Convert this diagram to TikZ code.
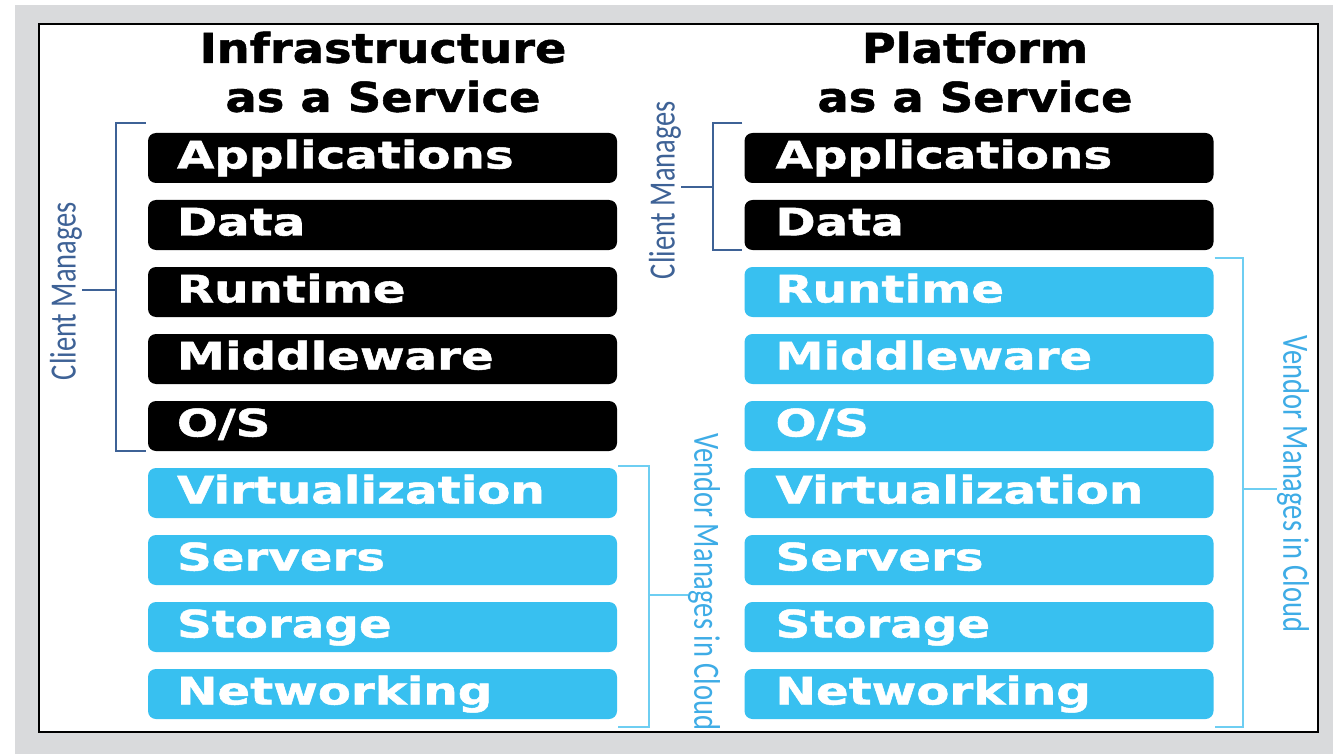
\documentclass[tikz,border=0pt]{standalone}
\usepackage{fontspec}
\setmainfont{DejaVu Sans}
\newfontfamily\heavyfont{DejaVu Sans}[BoldFeatures={FakeBold=1.2}]
\newfontfamily\sidefont{Carlito}
\usetikzlibrary{positioning}

\definecolor{pagegray}{RGB}{217,218,220}
\definecolor{skyfill}{RGB}{56,192,240}
\definecolor{clientblue}{RGB}{62,98,150}
\definecolor{vendorcyan}{RGB}{110,206,242}
\definecolor{vendortext}{RGB}{62,172,230}

\tikzset{layer/.style={rounded corners=8pt,minimum width=469pt,minimum height=50pt,inner sep=0pt},
  layertext/.style={text=white,inner sep=0pt,anchor=base west,xscale=1.27,font=\heavyfont\fontsize{38}{40}\selectfont\bfseries},
  heading/.style={align=center,inner sep=0pt,xscale=1.13,font=\heavyfont\fontsize{41}{49}\selectfont\bfseries},
  clientline/.style={clientblue,line width=2.5pt},
  vendorline/.style={vendorcyan,line width=2.5pt},
  sidetext/.style={inner sep=0pt,xscale=1.3,font=\sidefont\fontsize{28.5}{30}\selectfont}}

\begin{document}
\begin{tikzpicture}[x=1pt,y=-1pt]
                  \useasboundingbox (0,0) rectangle (1333,754);
                  \fill[pagegray] (15,5) rectangle (1333,754);
                  \draw[fill=white,line width=2pt] (39,24) rectangle (1318,732);
                  % headings
                  \node[heading] (iaas) at (383,72) {Infrastructure\\as a Service};
                  \node[heading] (paas) at (975,72) {Platform\\as a Service};
                  % the two stacks
                  \foreach \n/\t/\ci/\cp [count=\i from 0] in {app/Applications/black/black,data/Data/black/black,
                      run/Runtime/black/skyfill,mid/Middleware/black/skyfill,os/{O/S}/black/skyfill,
                      virt/Virtualization/skyfill/skyfill,serv/Servers/skyfill/skyfill,
                      stor/Storage/skyfill/skyfill,net/Networking/skyfill/skyfill}{
                    \node[layer,fill=\ci] (i\n) at (382.5,158+67*\i) {};
                    \node[layertext] at ([xshift=29pt,yshift=-10.5pt]i\n.west) {\t};
                    \node[layer,fill=\cp] (p\n) at (979,158+67*\i) {};
                    \node[layertext] at ([xshift=31pt,yshift=-10.5pt]p\n.west) {\t};
                  }
                  % side labels
                  \node[sidetext,rotate=90,text=clientblue] (iclient) at (66,291) {Client Manages};
                  \node[sidetext,rotate=90,text=clientblue] (pclient) at (665,190) {Client Manages};
                  \node[sidetext,rotate=-90,text=vendortext] (ivendor) at (704,582) {Vendor Manages in Cloud};
                  \node[sidetext,rotate=-90,text=vendortext] (pvendor) at (1293,484) {Vendor Manages in Cloud};
                  % brackets
                  \draw[clientline] ([shift={(-2pt,10pt)}]iapp.north west) -| (116,290) |- ([xshift=-2pt]ios.south west);
                  \draw[clientline] (iclient.south |- 116,290) -- (116,290);
                  \draw[clientline] ([shift={(-2pt,10pt)}]papp.north west) -| (713,187) |- ([xshift=-2pt]pdata.south west);
                  \draw[clientline] (pclient.south |- 713,187) -- (713,187);
                  \draw[vendorline] ([xshift=1pt,yshift=2pt]ivirt.north east) -| (649,595) |- ([shift={(1pt,-8pt)}]inet.south east);
                  \draw[vendorline] (649,595) -- (ivendor.south |- 649,595);
                  \draw[vendorline] ([xshift=1pt,yshift=9pt]prun.north east) -| (1243,489) |- ([shift={(1pt,-8pt)}]pnet.south east);
                  \draw[vendorline] (1243,489) -- (pvendor.south |- 1243,489);
              \end{tikzpicture}
\end{document}
